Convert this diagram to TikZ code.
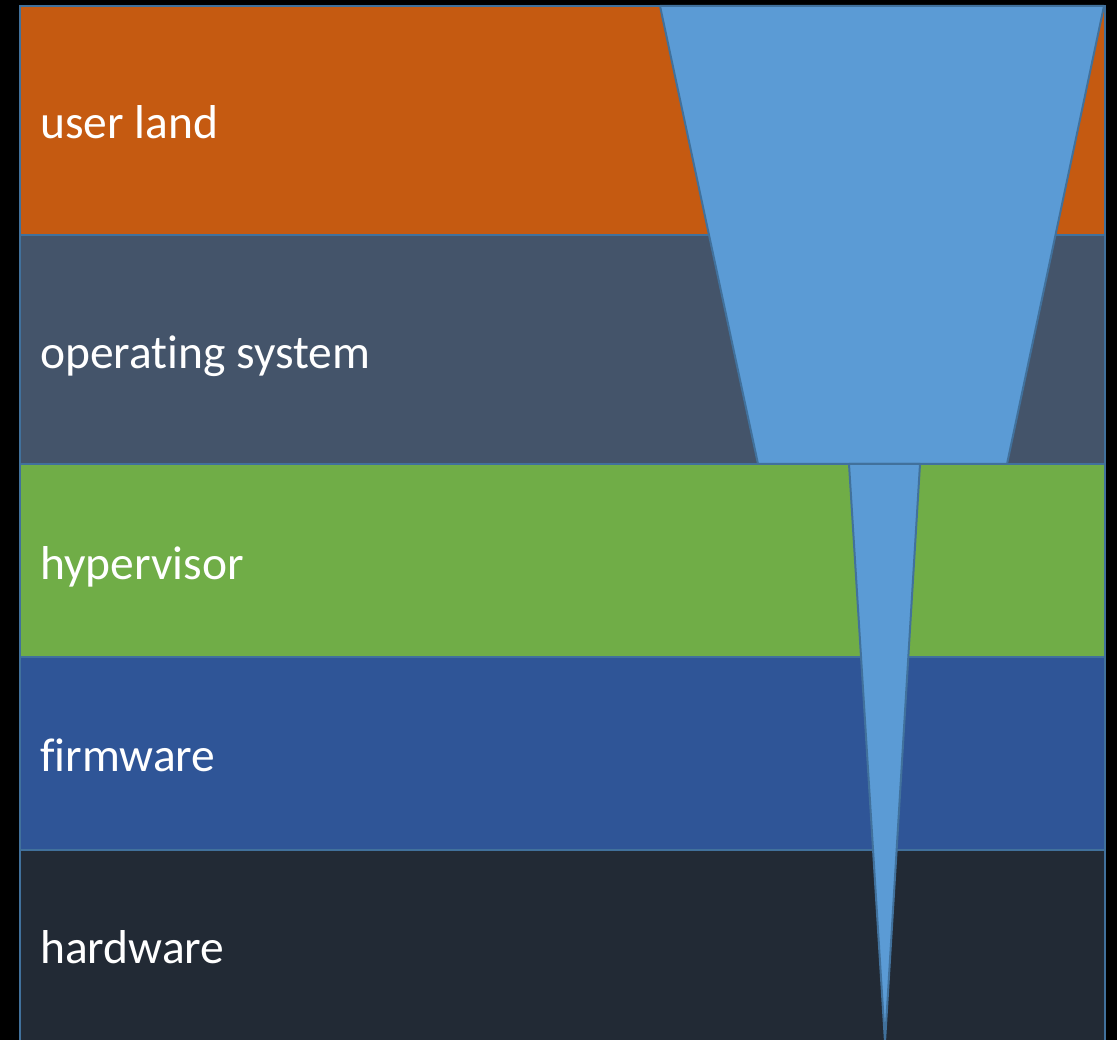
\documentclass[tikz,border=0pt]{standalone}
\usepackage{fontspec}
\setmainfont[Ligatures={NoCommon}]{Carlito}
\definecolor{edge}{HTML}{41719C}
\definecolor{userc}{HTML}{C55A11}
\definecolor{osc}{HTML}{44546A}
\definecolor{hypc}{HTML}{70AD47}
\definecolor{fwc}{HTML}{2F5597}
\definecolor{hwc}{HTML}{222A35}
\definecolor{funnel}{HTML}{5B9BD5}
\begin{document}
\begin{tikzpicture}[x=1pt,y=-1pt,
  layer/.style={draw=edge,line width=2pt},
  funnelshape/.style={draw=edge,line width=2pt,fill=funnel,line join=round},
  lbl/.style={anchor=base west,text=white,font=\fontsize{47.5}{56}\selectfont,inner sep=0pt}]
  \useasboundingbox[fill=black] (0,0) rectangle (1117,1040);
  \begin{scope}
    \clip (0,0) rectangle (1117,1040);
    % stacked layers
    \path[layer,fill=userc] (20,6) rectangle (1105,235);
    \path[layer,fill=osc]   (20,235) rectangle (1105,464);
    \path[layer,fill=hypc]  (20,464) rectangle (1105,657);
    \path[layer,fill=fwc]   (20,657) rectangle (1105,850);
    \path[layer,fill=hwc]   (20,850) rectangle (1105,1050);
    % funnel reaching down through the stack
    \path[funnelshape] (660,6) -- (1104,6) -- (1007,464) -- (758,464) -- cycle;
    \path[funnelshape] (849,464) -- (920,464) -- (885,1042) -- cycle;
  \end{scope}
  \node[lbl] (ul) at (40,139) {user land};
  \node[lbl] (os) at (40,369) {operating system};
  \node[lbl] (hv) at (40,579) {hypervisor};
  \node[lbl] (fw) at (40,771) {firmware};
  \node[lbl] (hw) at (40,963) {hardware};
\end{tikzpicture}
\end{document}
